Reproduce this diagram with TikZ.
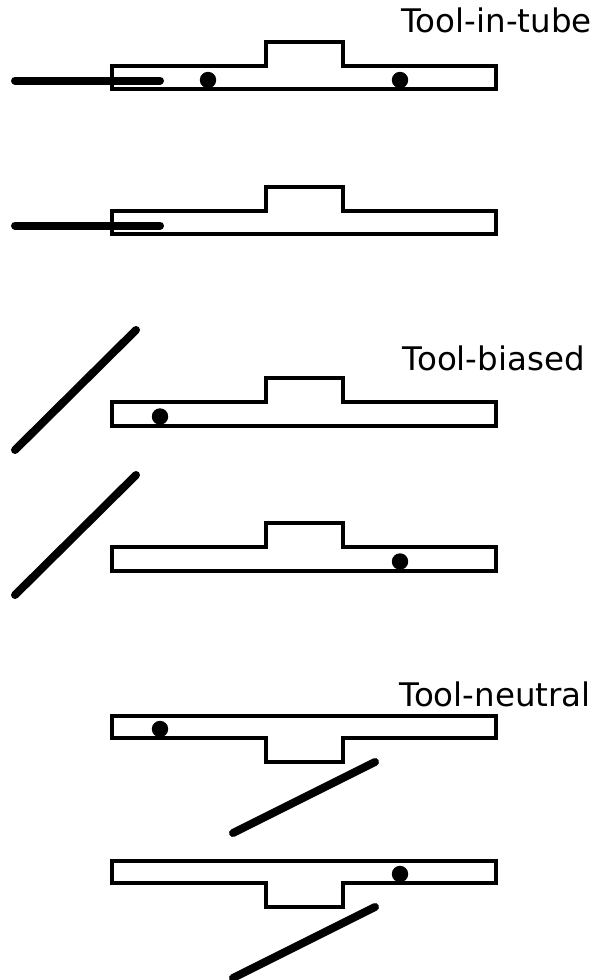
\documentclass[tikz,border=0pt]{standalone}
\usepackage{fontspec}
\setmainfont{DejaVu Sans}
\begin{document}
\begin{tikzpicture}[x=1pt,y=-1pt,
  tube/.style={draw=black,line width=3.3pt,line join=miter},
  toolrod/.style={draw=black,line width=8pt,line cap=round},
  ball/.style={fill=black},
  lbl/.style={font=\fontsize{32.5}{38}\selectfont,inner sep=0pt,anchor=base east}]
\useasboundingbox (0,0) rectangle (594,980);
% Tool-in-tube
\node[lbl] (l1) at (592,32) {Tool-in-tube};
\draw[tube] (112,66) -- (266,66) -- (266,42) -- (343,42) -- (343,66) -- (496,66) -- (496,89) -- (112,89) -- cycle;
\draw[toolrod] (15,80.5) -- (160,80.5);
\fill[ball] (208,80) circle (8.2);
\fill[ball] (400,80) circle (8.2);
\begin{scope}[yshift=-145pt]
\draw[tube] (112,66) -- (266,66) -- (266,42) -- (343,42) -- (343,66) -- (496,66) -- (496,89) -- (112,89) -- cycle;
\draw[toolrod] (15,80.5) -- (160,80.5);
\end{scope}
% Tool-biased
\node[lbl] (l2) at (585,370) {Tool-biased};
\draw[tube] (112,402) -- (266,402) -- (266,378) -- (343,378) -- (343,402) -- (496,402) -- (496,426) -- (112,426) -- cycle;
\draw[toolrod] (15,450) -- (136,330);
\fill[ball] (160,416.5) circle (8.2);
\begin{scope}[yshift=-145pt]
\draw[tube] (112,402) -- (266,402) -- (266,378) -- (343,378) -- (343,402) -- (496,402) -- (496,426) -- (112,426) -- cycle;
\draw[toolrod] (15,450) -- (136,330);
\fill[ball] (400,416.5) circle (8.2);
\end{scope}
% Tool-neutral
\node[lbl] (l3) at (591,706) {Tool-neutral};
\draw[tube] (112,716) -- (496,716) -- (496,738) -- (343,738) -- (343,762) -- (266,762) -- (266,738) -- (112,738) -- cycle;
\draw[toolrod] (233,833) -- (375,762);
\fill[ball] (160,729) circle (8.2);
\begin{scope}[yshift=-145pt]
\draw[tube] (112,716) -- (496,716) -- (496,738) -- (343,738) -- (343,762) -- (266,762) -- (266,738) -- (112,738) -- cycle;
\draw[toolrod] (233,833) -- (375,762);
\fill[ball] (400,729) circle (8.2);
\end{scope}
\end{tikzpicture}
\end{document}
